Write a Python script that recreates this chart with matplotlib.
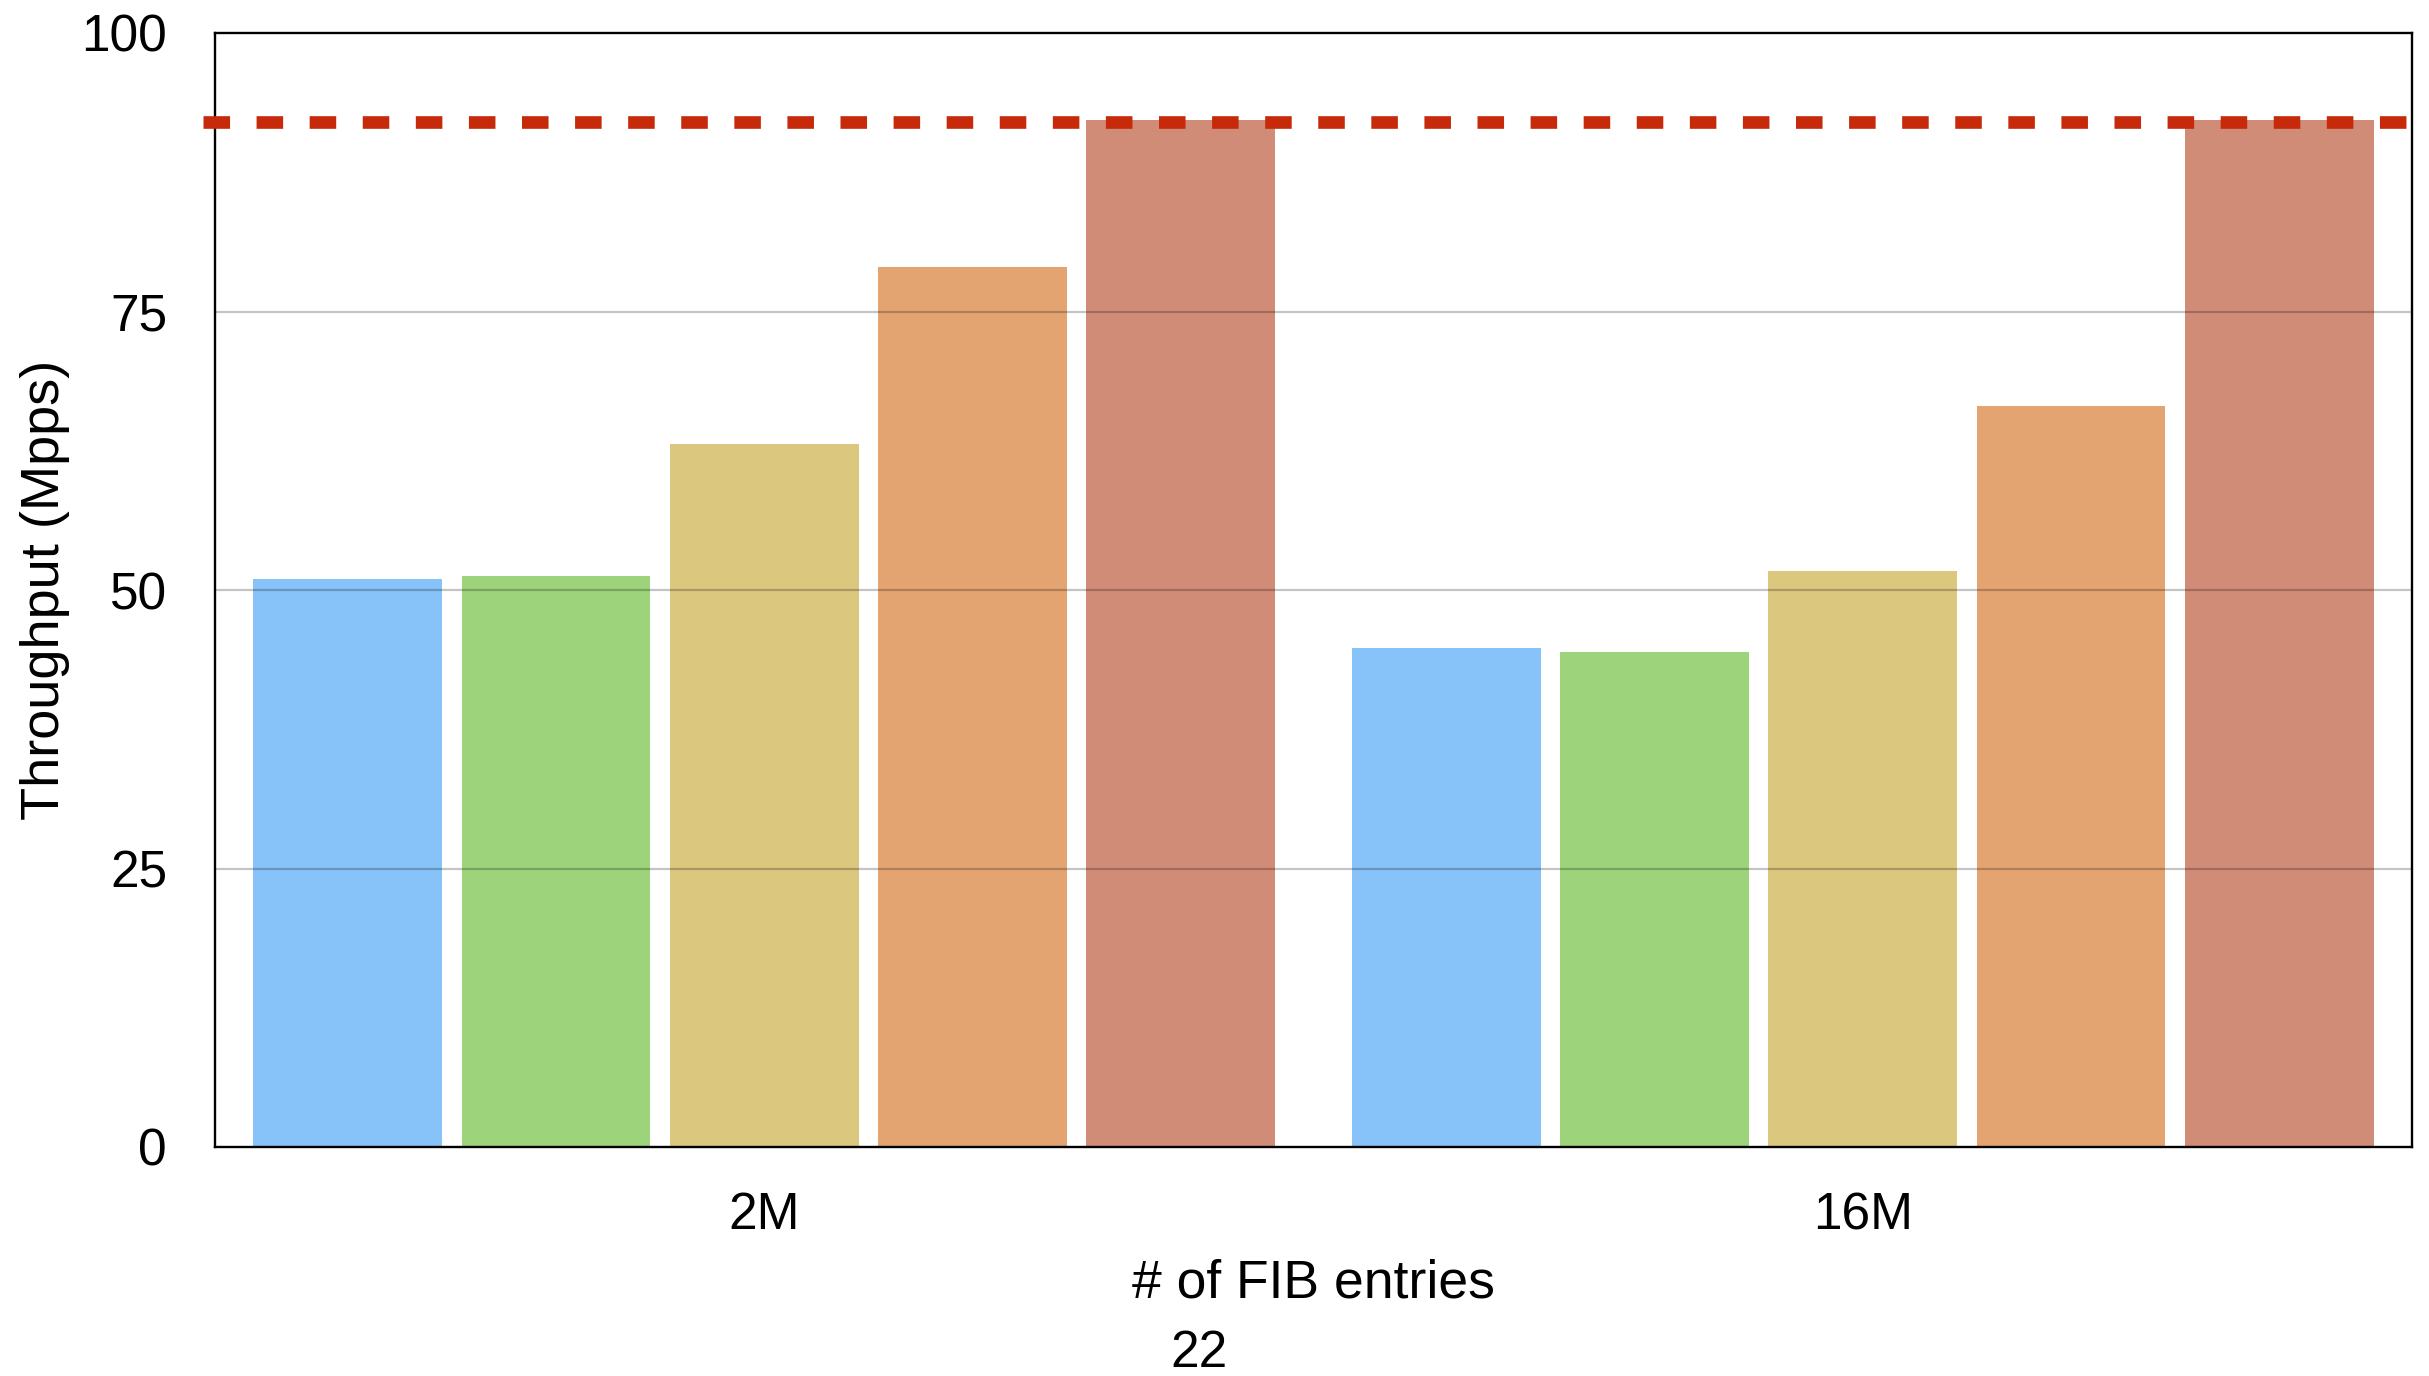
import matplotlib
matplotlib.use("Agg")
import matplotlib.pyplot as plt
import numpy as np

# ---- data ----
categories = ["2M", "16M"]
series_a = [51.0, 44.8]
series_b = [51.3, 44.4]
series_c = [63.1, 51.7]
series_d = [79.0, 66.5]
series_e = [92.2, 92.2]
line_rate = 92.0
yticks = [0, 25, 50, 75, 100]
page_number = "22"

colors = ["#87C2F8", "#9DD37B", "#DCC77F", "#E4A472", "#D18C77"]

plt.rcParams['font.family'] = ['Liberation Sans', 'DejaVu Sans']

W, H = 2429, 1376
fig = plt.figure(figsize=(W / 100, H / 100), dpi=100)
ax = fig.add_axes([215 / W, 1 - 1147 / H, (2412 - 215) / W, (1147 - 33) / H])

x = np.arange(len(categories))
step = 0.1896
width = 0.172
all_series = [series_a, series_b, series_c, series_d, series_e]
for i, (vals, c) in enumerate(zip(all_series, colors)):
    ax.bar(x + (i - 2) * step, vals, width=width, color=c, zorder=2,
           edgecolor='none')

ax.set_xlim(-0.5, 1.5)
ax.set_ylim(0, 100)
ax.set_yticks(yticks)
ax.set_yticklabels([str(t) for t in yticks])
ax.set_xticks(x)
ax.set_xticklabels(categories)

for t in [25, 50, 75]:
    ax.axhline(t, color='black', alpha=0.23, lw=1.6, zorder=3)

ax.axhline(line_rate, xmin=-0.0055, xmax=1.003, color='#C62A0A', lw=9.1,
           linestyle=(0, (2.1, 2.1)), clip_on=False, zorder=5)

for s in ax.spines.values():
    s.set_color('black')
    s.set_linewidth(1.7)
    s.set_zorder(4)

ax.tick_params(axis='y', length=0, pad=34.5, labelsize=37)
ax.tick_params(axis='x', length=0, pad=32, labelsize=37)

ax.set_xlabel("# of FIB entries", fontsize=38.5, labelpad=13)
ax.set_ylabel("Throughput (Mpps)", fontsize=39, labelpad=8)

fig.text(1199 / W, 9 / H, page_number, ha='center', va='baseline',
         fontsize=37)

fig.savefig("out.png", dpi=100, facecolor='white')
